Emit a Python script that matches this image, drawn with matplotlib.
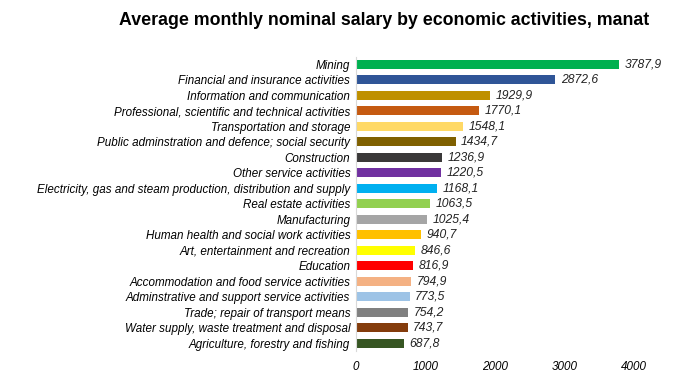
import matplotlib
matplotlib.use("Agg")
import matplotlib.pyplot as plt

categories = [
    "Mining",
    "Financial and insurance activities",
    "Information and communication",
    "Professional, scientific and technical activities",
    "Transportation and storage",
    "Public adminstration and defence; social security",
    "Construction",
    "Other service activities",
    "Electricity, gas and steam production, distribution and supply",
    "Real estate activities",
    "Manufacturing",
    "Human health and social work activities",
    "Art, entertainment and recreation",
    "Education",
    "Accommodation and food service activities",
    "Adminstrative and support service activities",
    "Trade; repair of transport means",
    "Water supply, waste treatment and disposal",
    "Agriculture, forestry and fishing",
]
values = [3787.9, 2872.6, 1929.9, 1770.1, 1548.1, 1434.7, 1236.9, 1220.5, 1168.1,
          1063.5, 1025.4, 940.7, 846.6, 816.9, 794.9, 773.5, 754.2, 743.7, 687.8]
colors = ["#00B050", "#2F5597", "#BF9000", "#C55A11", "#FFD966", "#7F6000", "#3A3838",
          "#7030A0", "#00B0F0", "#92D050", "#A5A5A5", "#FFC000", "#FFFF00", "#FF0000",
          "#F4B183", "#9DC3E6", "#808080", "#843C0C", "#375623"]
xticks = [0, 1000, 2000, 3000, 4000]

plt.rcParams["font.family"] = ["Liberation Sans", "DejaVu Sans"]

fig = plt.figure(figsize=(6.83, 3.78), dpi=100)
ax = fig.add_axes([0.521, 0.071, 0.407, 0.779])

y = list(range(len(categories)))
ax.barh(y, values, height=0.58, color=colors)
for yi, v in zip(y, values):
    ax.text(v + 80, yi, f"{v:.1f}".replace(".", ","), va="center", ha="left",
            fontsize=8.7, style="italic", color="#222222")

ax.set_ylim(len(categories) - 0.5, -0.5)
ax.set_xlim(0, 4000)
ax.set_yticks(y)
ax.set_yticklabels(categories, fontsize=8.4, style="italic")
ax.set_xticks(xticks)
ax.set_xticklabels([str(t) for t in xticks], fontsize=8.4, style="italic")
ax.tick_params(axis="both", length=0, pad=4)
ax.tick_params(axis="x", pad=7)
for s in ["top", "right", "bottom"]:
    ax.spines[s].set_visible(False)
ax.spines["left"].set_color("#D9D9D9")

fig.text(0.563, 0.947, "Average monthly nominal salary by economic activities, manat",
         ha="center", va="center", fontsize=12.8, fontweight="bold")

fig.savefig("out.png", dpi=100)
